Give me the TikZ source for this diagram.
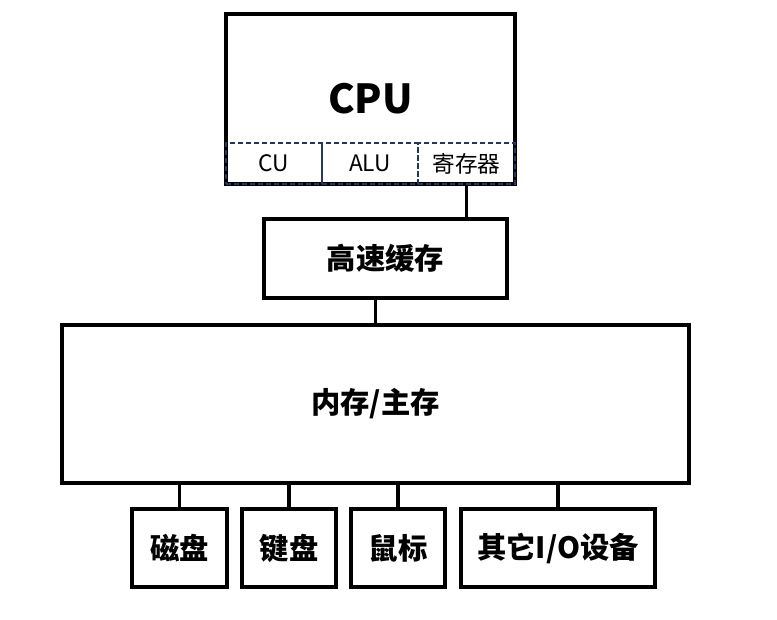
\documentclass[tikz,border=0pt]{standalone}
\usepackage{fontspec}
\setmainfont{Noto Sans CJK SC}
\usetikzlibrary{positioning}
\definecolor{regNavy}{HTML}{1F3864}

\begin{document}
\begin{tikzpicture}[x=0.75pt,y=-0.75pt,
  box/.style={draw=black,line width=2.6pt,fill=white,inner sep=0pt,
              font=\bfseries\fontsize{22}{26}\selectfont},
  subbox/.style={draw=regNavy,line width=1.4pt,dash pattern=on 4pt off 2pt,inner sep=0pt,
                 minimum height=30.75pt,font=\fontsize{17}{20}\selectfont},
  link/.style={line width=2.6pt}]
\useasboundingbox (0,0) rectangle (777,620);

% processor with its parts
\node[box,minimum width=216.75pt,minimum height=127.5pt,
      font=\bfseries\fontsize{30}{34}\selectfont] (cpu) at (370.5,99) {CPU};
\node[subbox,minimum width=72pt]    (cu)  at (274,163.5)   {CU};
\node[subbox,minimum width=72pt]    (alu) at (370,163.5)   {ALU};
\node[subbox,minimum width=72.75pt] (reg) at (466.5,163.5) {寄存器};

% cache and main memory
\node[box,minimum width=182.25pt,minimum height=59.25pt] (cache) at (385.5,258.5) {高速缓存};
\node[box,minimum width=470.25pt,minimum height=118.5pt] (mem) at (375.5,404) {内存/主存};

% devices
\node[box,minimum width=71.25pt,minimum height=58.5pt] (disk)  at (179.5,548) {磁盘};
\node[box,minimum width=70.5pt,minimum height=58.5pt]  (kbd)   at (289,548)   {键盘};
\node[box,minimum width=70.5pt,minimum height=58.5pt]  (mouse) at (398,548)   {鼠标};
\node[box,minimum width=145.5pt,minimum height=58.5pt] (io)    at (558,548)   {其它I/O设备};

\draw[link] (reg.south) -- (reg.south |- cache.north);
\draw[link] (mem.north) -- (mem.north |- cache.south);
\foreach \dev in {disk,kbd,mouse,io}
  \draw[link] (\dev.north) -- (\dev.north |- mem.south);
\end{tikzpicture}
\end{document}
